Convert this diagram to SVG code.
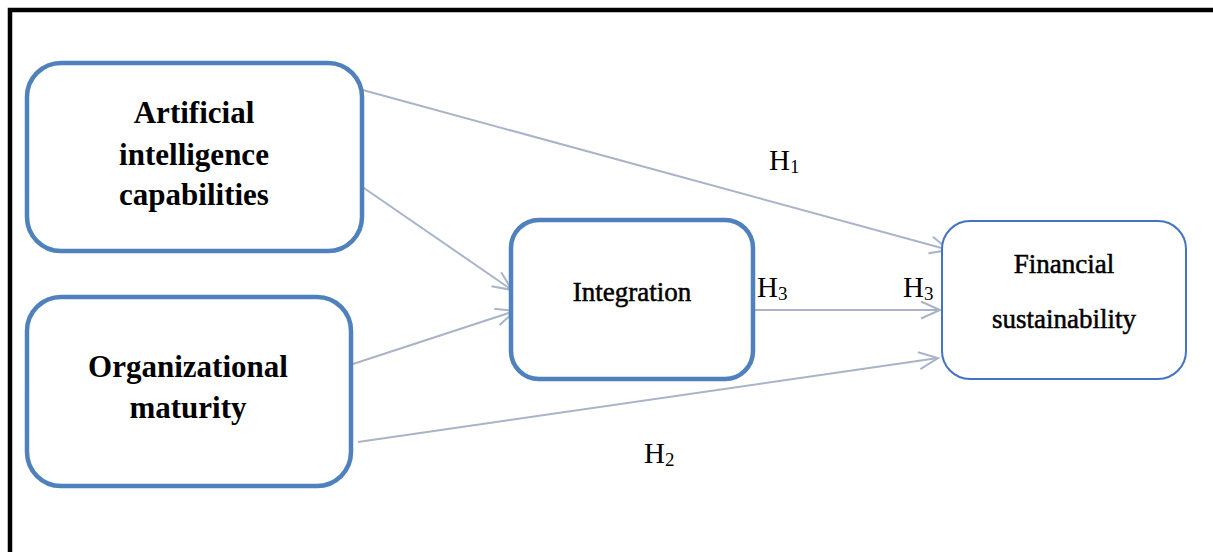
<svg xmlns="http://www.w3.org/2000/svg" width="1213" height="552" viewBox="0 0 1213 552">
<defs>
<style>
.box{fill:#fff;stroke:#4F81BD;stroke-width:4.5}
.box2{fill:#fff;stroke:#4472C4;stroke-width:2}
.lbl{font-family:"Liberation Serif","Times New Roman",serif;font-weight:bold;font-size:31px;fill:#000;text-anchor:middle}
.lbl2{font-family:"Liberation Serif","Times New Roman",serif;font-size:27px;fill:#000;stroke:#000;stroke-width:0.5;text-anchor:middle}
.h{font-family:"Liberation Serif","Times New Roman",serif;font-size:29px;fill:#000}
.conn{stroke:#A9B4C8;stroke-width:2;fill:none;marker-end:url(#arr)}
</style>
<marker id="arr" markerUnits="userSpaceOnUse" viewBox="-22 -11 24 22" markerWidth="24" markerHeight="22" refX="0" refY="0" orient="auto">
<path d="M-19,-8.5 L0,0 L-19,8.5" fill="none" stroke="#A9B4C8" stroke-width="2"/>
</marker>
</defs>
<rect width="1213" height="552" fill="#fff"/>
<path d="M10,552 V10 H1213" fill="none" stroke="#000" stroke-width="4.5"/>
<g id="connectors">
<line class="conn" x1="359" y1="89" x2="949" y2="250"/>
<line class="conn" x1="361" y1="186" x2="512" y2="290"/>
<line class="conn" x1="353" y1="364" x2="515" y2="311"/>
<line class="conn" x1="754" y1="310" x2="940" y2="310"/>
<line class="conn" x1="358" y1="442" x2="938" y2="358"/>
</g>
<g id="node-ai">
<rect class="box" x="27" y="63" width="335" height="188" rx="34"/>
<text class="lbl" x="194" y="123">Artificial</text>
<text class="lbl" x="194" y="165">intelligence</text>
<text class="lbl" x="194" y="205">capabilities</text>
</g>
<g id="node-org">
<rect class="box" x="27" y="297" width="324" height="189" rx="34"/>
<text class="lbl" x="188" y="377">Organizational</text>
<text class="lbl" x="188" y="418">maturity</text>
</g>
<g id="node-integration">
<rect class="box" x="511" y="220" width="242" height="159" rx="28"/>
<text class="lbl2" x="632" y="301">Integration</text>
</g>
<g id="node-financial">
<rect class="box2" x="942" y="221" width="244" height="158" rx="28"/>
<text class="lbl2" x="1064" y="273">Financial</text>
<text class="lbl2" x="1064" y="328">sustainability</text>
</g>
<g id="labels">
<text class="h" x="769" y="170">H<tspan font-size="19" dy="3">1</tspan></text>
<text class="h" x="757" y="297">H<tspan font-size="19" dy="3">3</tspan></text>
<text class="h" x="903" y="297">H<tspan font-size="19" dy="3">3</tspan></text>
<text class="h" x="644" y="463">H<tspan font-size="19" dy="3">2</tspan></text>
</g>
</svg>
